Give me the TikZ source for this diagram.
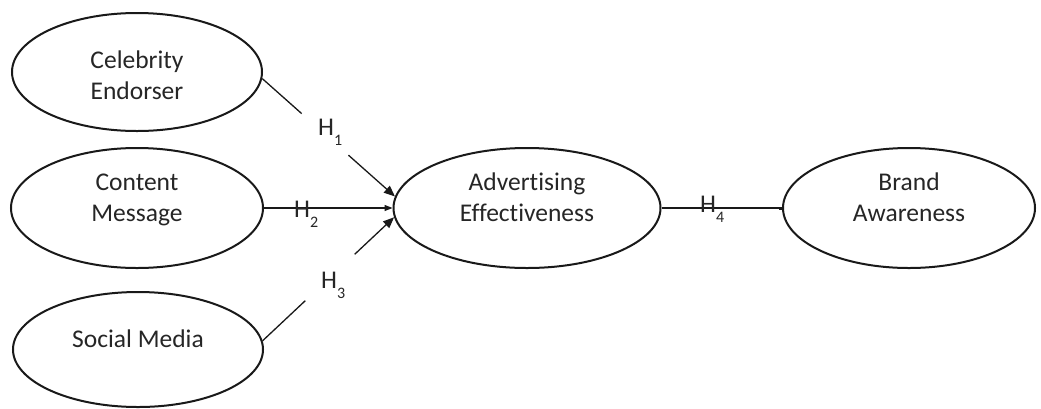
\documentclass[tikz,border=0pt]{standalone}
\usepackage{fontspec}
\setmainfont{Carlito}[Ligatures=NoCommon]
\usetikzlibrary{arrows.meta,shapes.geometric}
\newcommand\Hsub[1]{H\raisebox{-10pt}{\fontsize{16}{16}\selectfont #1}}
\begin{document}
\begin{tikzpicture}[x=1pt,y=-1pt,
  ell/.style={ellipse, draw=black!90, line width=2pt, inner sep=0pt},
  txt/.style={font=\fontsize{25.5}{31}\selectfont, text=black!85, align=center},
  conn/.style={draw=black!90, line width=1.3pt},
  arr/.style={conn, -{Triangle[length=11pt,width=9pt]}},
  hlab/.style={font=\fontsize{25.5}{31}\selectfont, text=black!85, anchor=base west, inner sep=0pt}]
\useasboundingbox[fill=white] (0,0) rectangle (1041,408);
\node[ell, minimum width=250pt, minimum height=118pt, label={[txt,yshift=-3.5pt]center:Celebrity\\Endorser}] (cel) at (137,72) {};
\node[ell, minimum width=252pt, minimum height=120pt, label={[txt,yshift=8.5pt]center:Content\\Message}] (con) at (137,208) {};
\node[ell, minimum width=250pt, minimum height=115pt, label={[txt,yshift=10.5pt]center:Social Media}] (soc) at (138,349.5) {};
\node[ell, minimum width=267pt, minimum height=120pt, label={[txt,yshift=11pt]center:Advertising\\Effectiveness}] (adv) at (527,208) {};
\node[ell, minimum width=252pt, minimum height=120pt, label={[txt,yshift=11pt]center:Brand\\Awareness}] (bra) at (909,208) {};
\path (cel.-3) -- coordinate[pos=0.297](g1a) coordinate[pos=0.65](g1b) (adv.175);
\draw[conn] (cel.-3) -- (g1a);
\draw[arr] (g1b) -- (adv.175);
\path (soc.4) -- coordinate[pos=0.325](g3a) coordinate[pos=0.70](g3b) (adv.184);
\draw[conn] (soc.4) -- (g3a);
\draw[arr] (g3b) -- (adv.184);
\draw[conn, -{Triangle[length=8pt,width=6pt]}] (con.east) -- (adv.west);
\draw[conn, -{Square[length=3pt,width=3pt]}] (adv.east) -- (bra.west);
\node[hlab] (h1) at (318,135) {\Hsub{1}};
\node[hlab] (h2) at (294,217) {\Hsub{2}};
\node[hlab] (h3) at (321,288) {\Hsub{3}};
\node[hlab] (h4) at (700,212) {\Hsub{4}};
\end{tikzpicture}
\end{document}
